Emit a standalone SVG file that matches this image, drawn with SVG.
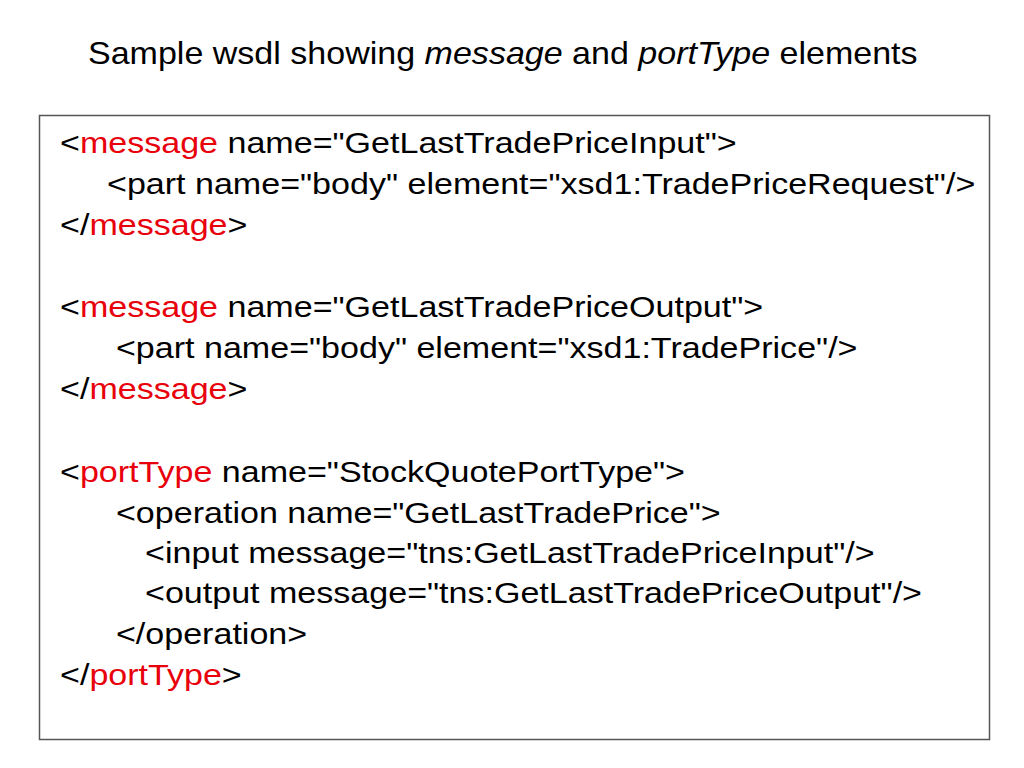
<svg xmlns="http://www.w3.org/2000/svg" width="1024" height="768" viewBox="0 0 1024 768">
<style>
text{font-family:"Liberation Sans",Arial,sans-serif;fill:#000;}
.t{font-size:32px;}
.c{font-size:30px;}
.r{fill:#e8000b;}
</style>
<rect width="1024" height="768" fill="#fff"/>
<g id="title" transform="scale(1.064,1)">
<text class="t" x="82.7" y="64">Sample wsdl showing <tspan font-style="italic">message</tspan> and <tspan font-style="italic">portType</tspan> elements</text>
</g>
<g id="box">
<rect x="39.5" y="115.5" width="950" height="624" fill="none" stroke="#555" stroke-width="1.5"/>
</g>
<g id="code" transform="scale(1.135,1)">
<text class="c" x="52.9" y="153">&lt;<tspan class="r">message</tspan> name="GetLastTradePriceInput"&gt;</text>
<text class="c" x="94.3" y="194">&lt;part name="body" element="xsd1:TradePriceRequest"/&gt;</text>
<text class="c" x="52.9" y="235">&lt;/<tspan class="r">message</tspan>&gt;</text>
<text class="c" x="52.9" y="317">&lt;<tspan class="r">message</tspan> name="GetLastTradePriceOutput"&gt;</text>
<text class="c" x="102.2" y="358">&lt;part name="body" element="xsd1:TradePrice"/&gt;</text>
<text class="c" x="52.9" y="399">&lt;/<tspan class="r">message</tspan>&gt;</text>
<text class="c" x="52.9" y="482">&lt;<tspan class="r">portType</tspan> name="StockQuotePortType"&gt;</text>
<text class="c" x="102.2" y="523">&lt;operation name="GetLastTradePrice"&gt;</text>
<text class="c" x="127.8" y="563">&lt;input message="tns:GetLastTradePriceInput"/&gt;</text>
<text class="c" x="127.8" y="603">&lt;output message="tns:GetLastTradePriceOutput"/&gt;</text>
<text class="c" x="102.2" y="644">&lt;/operation&gt;</text>
<text class="c" x="52.9" y="685">&lt;/<tspan class="r">portType</tspan>&gt;</text>
</g>
</svg>
